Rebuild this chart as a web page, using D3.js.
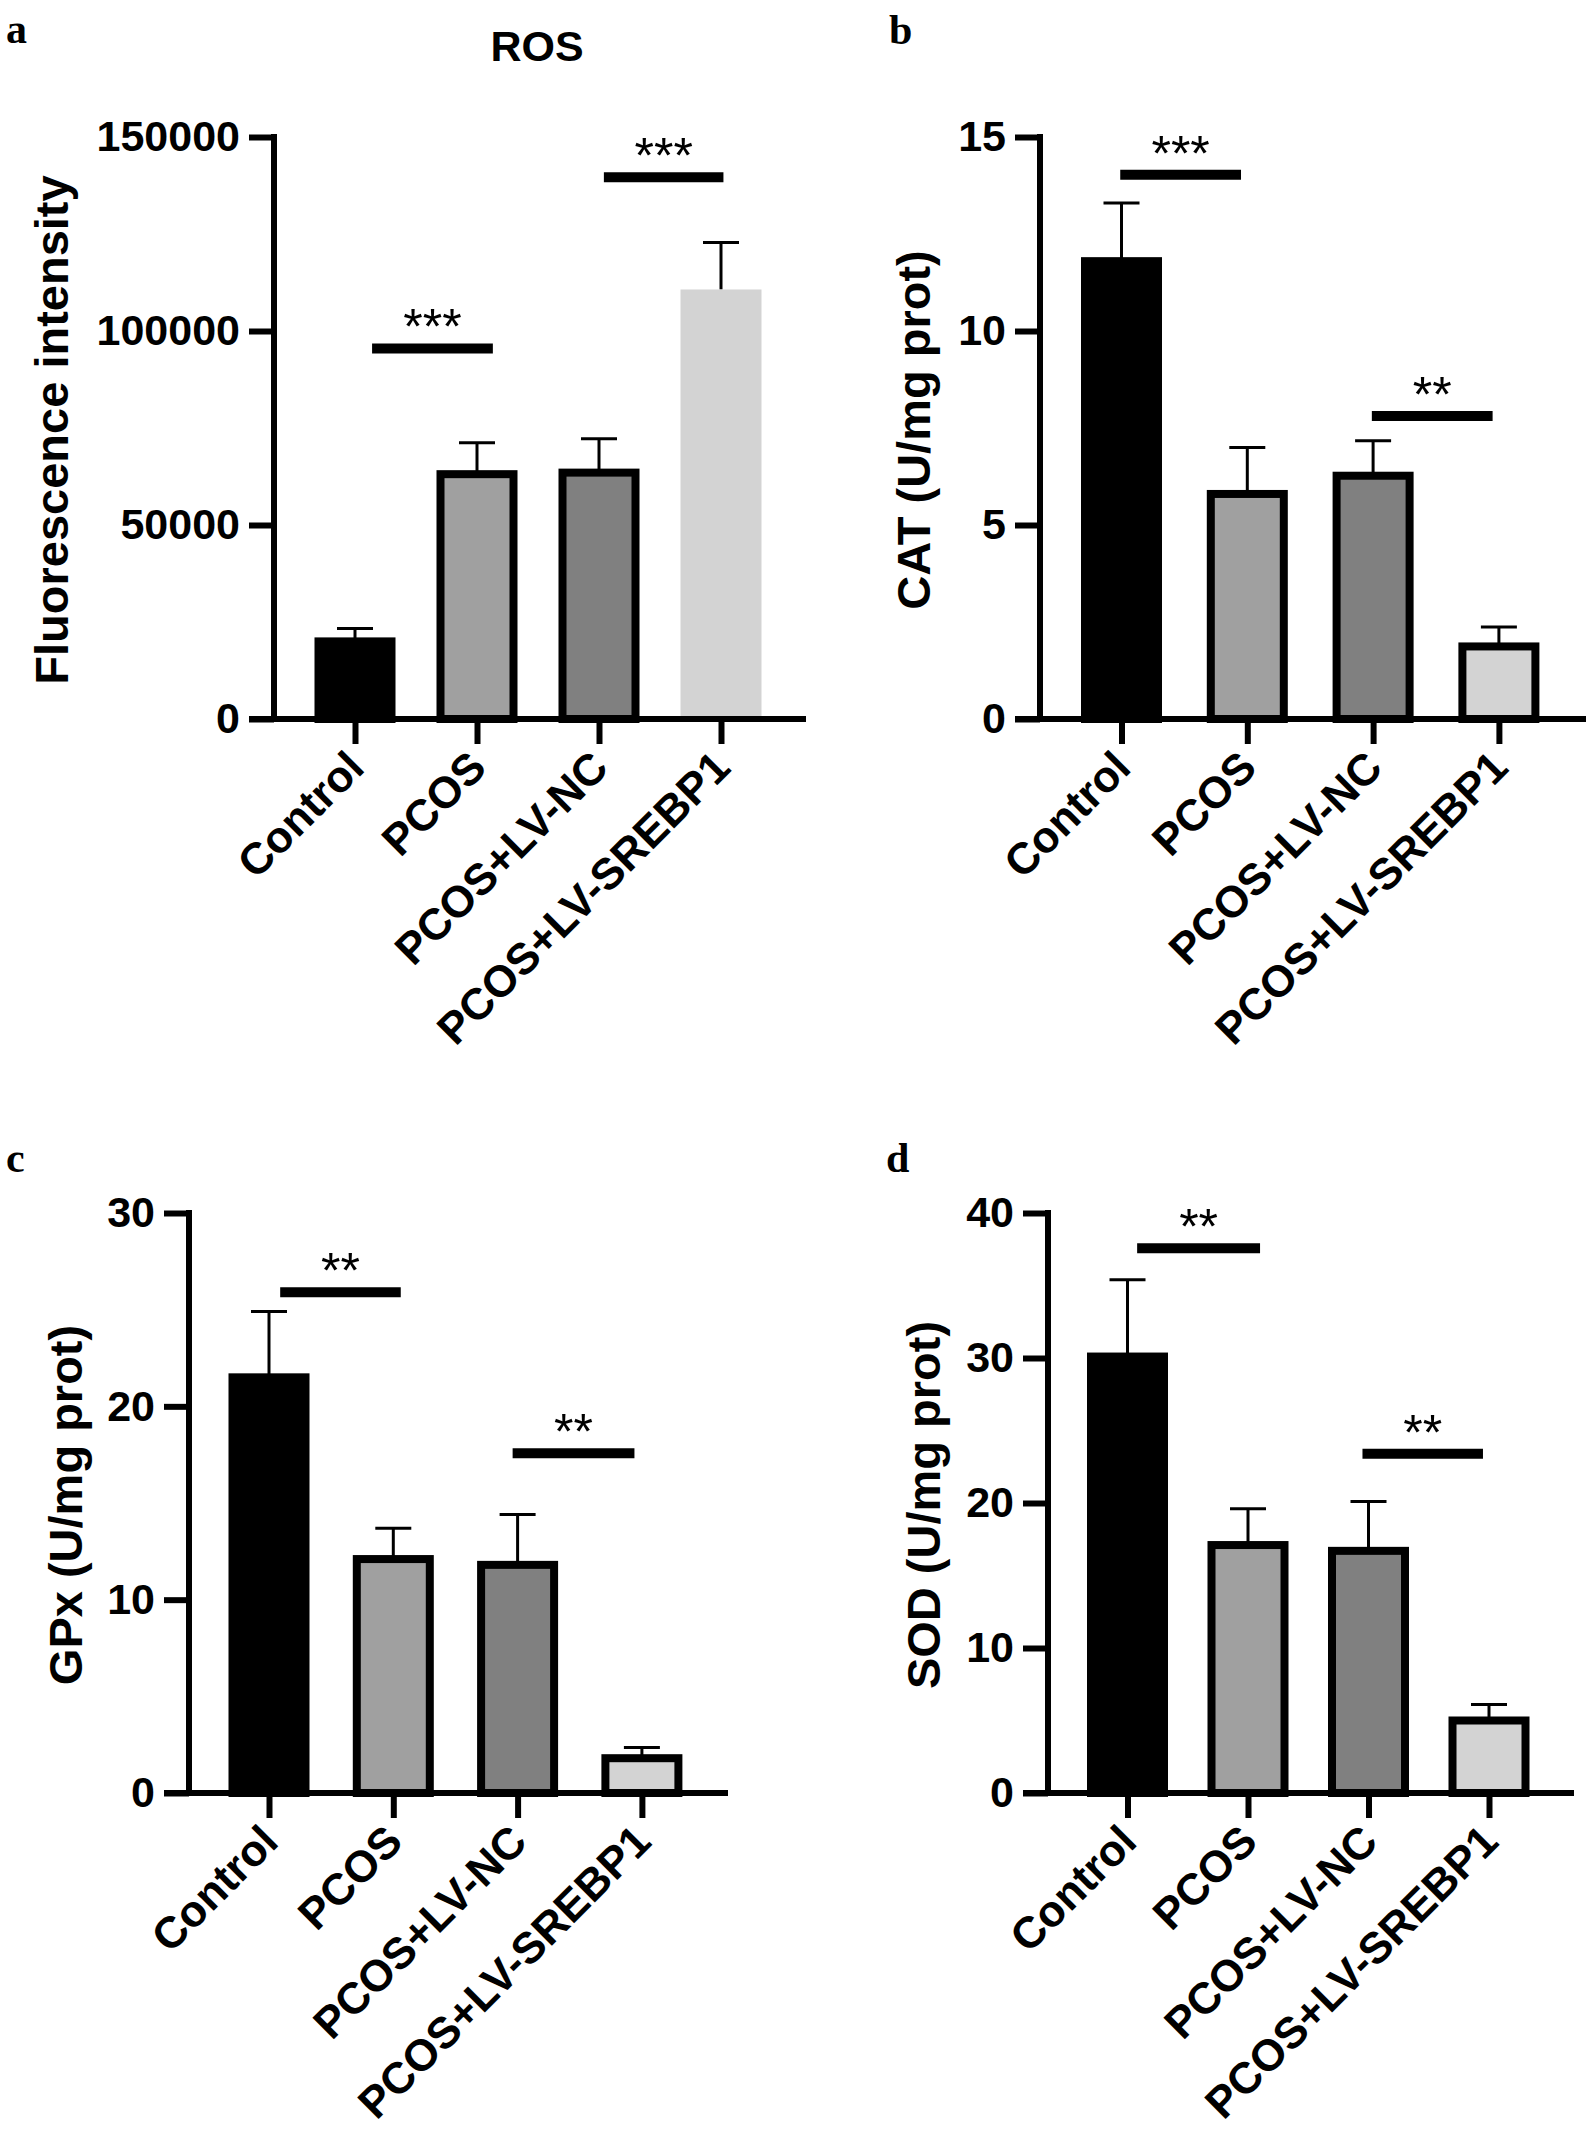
<!DOCTYPE html>
<html>
<head>
<meta charset="utf-8">
<script src="https://cdn.jsdelivr.net/npm/d3@7"></script>
<style>
  html, body { margin: 0; padding: 0; background: #fff; }
  svg text { font-family: "Liberation Sans", Arial, Helvetica, sans-serif; }
</style>
</head>
<body>
<svg id="chart" width="1593" height="2142"></svg>
<script>
// ---------------- data ----------------
const categories = ["Control", "PCOS", "PCOS+LV-NC", "PCOS+LV-SREBP1"];
const barColors = ["#000000", "#a0a0a0", "#808080", "#d3d3d3"];

const rosMean = [20000, 63100, 63500, 110700];
const rosSD   = [3300, 8100, 8700, 12100];
const rosTicks = [0, 50000, 100000, 150000];

const catMean = [11.8, 5.8, 6.27, 1.87];
const catSD   = [1.5, 1.2, 0.9, 0.5];
const catTicks = [0, 5, 10, 15];

const gpxMean = [21.5, 12.1, 11.8, 1.8];
const gpxSD   = [3.4, 1.6, 2.6, 0.55];
const gpxTicks = [0, 10, 20, 30];

const sodMean = [30.1, 17.1, 16.7, 5.0];
const sodSD   = [5.3, 2.5, 3.4, 1.1];
const sodTicks = [0, 10, 20, 30, 40];

// significance brackets: from/to in category index units, y in data units
const rosSig = [{from: 0.14, to: 1.13, y: 95500, label: "***"}, {from: 2.04, to: 3.02, y: 139600, label: "***"}];
const catSig = [{from: -0.01, to: 0.95, y: 14.03, label: "***"}, {from: 1.99, to: 2.95, y: 7.81, label: "**"}];
const gpxSig = [{from: 0.09, to: 1.06, y: 25.9, label: "**"}, {from: 1.96, to: 2.94, y: 17.57, label: "**"}];
const sodSig = [{from: 0.08, to: 1.10, y: 37.57, label: "**"}, {from: 1.95, to: 2.95, y: 23.4, label: "**"}];

// ---------------- layout ----------------
const panels = [
  {letter: "a", lx: 6, ly: 43, title: "ROS", ylabel: "Fluorescence intensity",
   mean: rosMean, sd: rosSD, ticks: rosTicks, sig: rosSig, max: 150000,
   axisX: 274, axisEnd: 806, top: 137, zero: 719, first: 355, step: 122,
   ylabelX: 68, lastBorder: false},
  {letter: "b", lx: 889, ly: 44, title: null, ylabel: "CAT (U/mg prot)",
   mean: catMean, sd: catSD, ticks: catTicks, sig: catSig, max: 15,
   axisX: 1040, axisEnd: 1586, top: 137, zero: 719, first: 1121.5, step: 125.8,
   ylabelX: 930, lastBorder: true},
  {letter: "c", lx: 6, ly: 1172, title: null, ylabel: "GPx (U/mg prot)",
   mean: gpxMean, sd: gpxSD, ticks: gpxTicks, sig: gpxSig, max: 30,
   axisX: 189, axisEnd: 728, top: 1213, zero: 1793, first: 269, step: 124.3,
   ylabelX: 82, lastBorder: true},
  {letter: "d", lx: 886, ly: 1172, title: null, ylabel: "SOD (U/mg prot)",
   mean: sodMean, sd: sodSD, ticks: sodTicks, sig: sodSig, max: 40,
   axisX: 1048, axisEnd: 1574, top: 1213, zero: 1793, first: 1127.5, step: 120.5,
   ylabelX: 940, lastBorder: true}
];

const svg = d3.select("#chart");
svg.append("rect").attr("width", 1593).attr("height", 2142).attr("fill", "#fff");

const AXW = 6, TICK = 25, BARW = 81, BORDER = 8;

panels.forEach(p => {
  const g = svg.append("g");
  const y = d3.scaleLinear().domain([0, p.max]).range([p.zero, p.top]);
  const x = d3.scalePoint().domain(categories)
    .range([p.first, p.first + p.step * (categories.length - 1)]);
  const xi = i => p.first + p.step * i;

  // panel letter
  svg.append("text").attr("x", p.lx).attr("y", p.ly)
    .style("font-family", "'Liberation Serif', 'Times New Roman', serif")
    .style("font-weight", "bold").style("font-size", "42px").text(p.letter);

  if (p.title) {
    g.append("text").attr("x", 537).attr("y", 61).attr("text-anchor", "middle")
      .style("font-weight", "bold").style("font-size", "43px").text(p.title);
  }

  // y label
  g.append("text")
    .attr("transform", `translate(${p.ylabelX},${(p.top + p.zero) / 2 + 2}) rotate(-90)`)
    .attr("text-anchor", "middle")
    .style("font-weight", "bold").style("font-size", "47px").text(p.ylabel);

  // error bars (whisker up only)
  const eb = g.append("g").attr("stroke", "#000").attr("stroke-width", 3);
  categories.forEach((c, i) => {
    const cx = x(c);
    eb.append("line").attr("x1", cx).attr("x2", cx)
      .attr("y1", y(p.mean[i])).attr("y2", y(p.mean[i] + p.sd[i]));
    eb.append("line").attr("x1", cx - 18).attr("x2", cx + 18)
      .attr("y1", y(p.mean[i] + p.sd[i])).attr("y2", y(p.mean[i] + p.sd[i]));
  });

  // bars
  categories.forEach((c, i) => {
    const cx = x(c);
    const bordered = !(i === categories.length - 1 && !p.lastBorder);
    const w = bordered ? BARW - BORDER : BARW;
    g.append("rect")
      .attr("x", cx - w / 2).attr("width", w)
      .attr("y", y(p.mean[i])).attr("height", p.zero - y(p.mean[i]))
      .attr("fill", barColors[i])
      .attr("stroke", bordered ? "#000" : "none")
      .attr("stroke-width", BORDER);
  });

  // y axis
  const ya = g.append("g").attr("transform", `translate(${p.axisX},0)`)
    .call(d3.axisLeft(y).tickValues(p.ticks).tickSize(TICK).tickSizeOuter(0).tickPadding(9)
      .tickFormat(d3.format("d")));
  ya.select(".domain").remove();
  ya.selectAll(".tick line").attr("stroke", "#000").attr("stroke-width", AXW);
  ya.selectAll(".tick text").attr("fill", "#000")
    .style("font-family", "'Liberation Sans', Arial, sans-serif")
    .style("font-weight", "bold").style("font-size", "43px");
  g.append("line").attr("x1", p.axisX).attr("x2", p.axisX)
    .attr("y1", p.top - AXW / 2).attr("y2", p.zero + AXW / 2)
    .attr("stroke", "#000").attr("stroke-width", AXW);

  // x axis
  g.append("line").attr("x1", p.axisX - TICK).attr("x2", p.axisEnd)
    .attr("y1", p.zero).attr("y2", p.zero)
    .attr("stroke", "#000").attr("stroke-width", AXW);
  const xa = g.append("g").attr("transform", `translate(0,${p.zero})`)
    .call(d3.axisBottom(x).tickSize(TICK).tickSizeOuter(0));
  xa.select(".domain").remove();
  xa.selectAll(".tick line").attr("stroke", "#000").attr("stroke-width", AXW);
  xa.selectAll(".tick text")
    .attr("x", 0).attr("y", 0).attr("dy", null)
    .attr("transform", "translate(11,51) rotate(-45)")
    .attr("text-anchor", "end").attr("fill", "#000")
    .style("font-family", "'Liberation Sans', Arial, sans-serif")
    .style("font-weight", "bold").style("font-size", "44px");

  // significance brackets
  p.sig.forEach(s => {
    const yy = y(s.y);
    g.append("line").attr("x1", xi(s.from)).attr("x2", xi(s.to))
      .attr("y1", yy).attr("y2", yy)
      .attr("stroke", "#000").attr("stroke-width", 10);
    g.append("text").attr("x", (xi(s.from) + xi(s.to)) / 2).attr("y", yy - 4)
      .attr("text-anchor", "middle")
      .style("font-size", "50px").style("font-weight", "normal").text(s.label);
  });
});
</script>
</body>
</html>
